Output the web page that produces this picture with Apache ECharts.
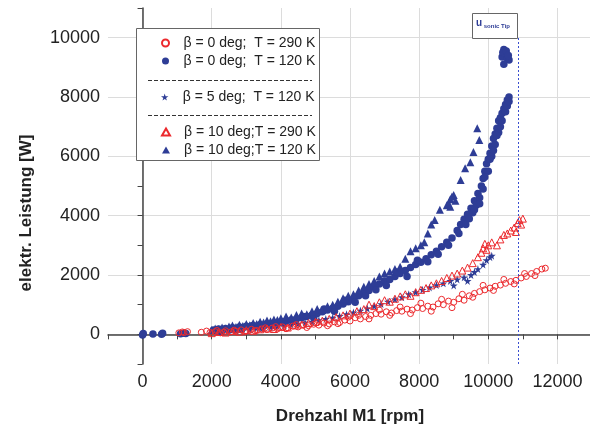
<!DOCTYPE html>
<html>
<head>
<meta charset="utf-8">
<script src="https://cdn.jsdelivr.net/npm/echarts@6/dist/echarts.min.js"></script>
<style>
    html, body { margin: 0; padding: 0; background: #fff; }
    #chart { width: 590px; height: 429px; }
</style>
</head>
<body>
<div id="chart"></div>
<script>
    // legend labels / series names
    const seriesNames = [
        'β = 0 deg;  T = 290 K',
        'β = 0 deg;  T = 120 K',
        'β = 5 deg;  T = 120 K',
        'β = 10 deg;T = 290 K',
        'β = 10 deg;T = 120 K'
    ]
    const xTickLabels = [0, 2000, 4000, 6000, 8000, 10000, 12000]
    const yTickLabels = [0, 2000, 4000, 6000, 8000, 10000]
    const uSonicTip = 10880

    //  [Drehzahl rpm, Leistung W]
    const beta0T290 = [
        [1050, 50], [1150, 80], [1200, 60], [1300, 90], [1700, 70], [1850, 110], [1950, 60], [2100, 90],
        [2250, 50], [2400, 120], [2550, 80], [2700, 100], [2850, 150], [3000, 110], [3150, 170], [3300, 130],
        [3450, 180], [3600, 160], [3750, 210], [3900, 180], [4050, 250], [4200, 220], [4350, 280], [4500, 250],
        [4650, 320], [4800, 290], [4950, 340], [5100, 310], [5250, 380], [5400, 350], [5550, 420], [5700, 400],
        [5850, 480], [6000, 450], [6150, 560], [6300, 520], [6450, 600], [6600, 640], [6750, 700], [6900, 680],
        [7050, 760], [7200, 720], [7350, 800], [7500, 780], [7650, 850], [7800, 820], [7950, 900], [8100, 870],
        [8250, 950], [8400, 920], [8550, 1030], [8700, 1000], [8850, 1120], [9000, 1080], [9150, 1200], [9300, 1150],
        [9450, 1300], [9600, 1380], [9750, 1440], [9900, 1500], [10050, 1560], [10200, 1620], [10350, 1660], [10500, 1720],
        [10650, 1780], [10800, 1820], [10950, 1900], [11100, 1950], [11250, 2050], [11400, 2120], [11550, 2200], [11650, 2230],
        [2150, 130], [2350, 70], [2650, 140], [2950, 80], [3250, 120], [3550, 220], [3850, 260], [4150, 190],
        [4450, 330], [4750, 230], [5050, 400], [5350, 290], [5650, 360], [5950, 580], [6250, 640], [6550, 520],
        [6850, 820], [7150, 640], [7450, 920], [7750, 700], [8050, 1050], [8350, 780], [8650, 1180], [8950, 900],
        [9250, 1350], [9550, 1250], [9850, 1650], [10150, 1480], [10450, 1850], [10750, 1700], [11050, 2050], [11350, 1980]
    ]
    const beta0T120 = [
        [0, -20], [20, 30], [300, 10], [550, 0], [580, 40], [1100, 20], [1200, 40], [1250, 30],
        [2050, 150], [2150, 100], [2200, 180], [2300, 130], [2400, 200], [2500, 150], [2600, 220], [2700, 180],
        [2800, 250], [2900, 210], [3000, 270], [3100, 230], [3200, 300], [3300, 260], [3400, 320], [3500, 290],
        [3600, 350], [3700, 330], [3800, 380], [3900, 360], [4000, 420], [4150, 450], [4300, 480], [4450, 520],
        [4600, 560], [4750, 600], [4900, 650], [5050, 700], [5200, 760], [5350, 820], [5500, 880], [5650, 950],
        [5800, 1020], [5950, 1100], [6100, 1180], [6250, 1300], [6400, 1400], [6550, 1480], [6700, 1600], [6850, 1700],
        [7000, 1800], [7150, 1850], [7300, 1950], [7450, 2050], [7600, 2150], [7750, 2250], [7900, 2350], [8050, 2430],
        [8200, 2550], [8350, 2680], [8500, 2800], [8650, 2950], [8800, 3100], [8950, 3250], [9100, 3500], [9200, 3700],
        [9300, 3880], [9400, 4050], [9500, 4250], [9600, 4500], [9700, 4750], [9800, 5000], [9850, 5250], [9900, 5500],
        [9950, 5750], [10000, 5900], [10050, 6100], [10100, 6350], [10150, 6600], [10200, 6750], [10250, 6950], [10300, 7200],
        [10350, 7300], [10400, 7450], [10450, 7600], [10500, 7750], [10550, 7900], [10600, 8000], [10400, 9350], [10450, 9600],
        [10500, 9450], [10550, 9300], [10600, 9250], [10450, 9100], [10420, 9500], [10520, 9550], [10580, 9400],
        [2250, 90], [2550, 170], [2850, 160], [3150, 280], [3450, 240], [3750, 300], [4050, 380], [4350, 430],
        [4650, 600], [4950, 560], [5250, 850], [5550, 780], [5850, 1150], [6150, 1080], [6450, 1300], [6750, 1500],
        [7050, 1650], [7350, 2100], [7650, 1950], [7950, 2500], [8250, 2450], [8550, 2700], [8850, 3000], [9150, 3400],
        [9350, 3700], [9550, 4100], [9650, 4350], [9750, 4600], [9850, 4900], [10000, 5500], [10100, 6000], [10200, 6400],
        [10300, 6800], [10350, 7000], [10500, 7500], [9900, 5300], [10050, 5900], [10150, 6200], [10250, 6700], [10400, 7200],
        [10550, 7700], [10600, 7850], [9750, 4400], [9600, 4200], [9450, 3900]
    ]
    const beta5T120 = [
        [2100, 120], [2300, 90], [2500, 150], [2700, 130], [2900, 180], [3100, 160], [3300, 210], [3500, 190],
        [3700, 240], [3900, 270], [4100, 300], [4300, 330], [4500, 360], [4700, 400], [4900, 430], [5100, 480],
        [5300, 520], [5500, 560], [5700, 620], [5900, 680], [6100, 740], [6300, 800], [6500, 870], [6700, 950],
        [6900, 1020], [7100, 1100], [7300, 1180], [7500, 1250], [7700, 1350], [7900, 1420], [8100, 1500], [8300, 1580],
        [8500, 1660], [8700, 1720], [8900, 1800], [9100, 1850], [9300, 1920], [9500, 2000], [9700, 2200], [9850, 2350],
        [9950, 2500], [10050, 2600], [10100, 2650], [9000, 1650], [9400, 1800], [9600, 2100]
    ]
    const beta10T290 = [
        [2000, 40], [2200, 80], [2400, 60], [2600, 110], [2800, 90], [3000, 140], [3200, 120], [3400, 170],
        [3600, 200], [3800, 180], [4000, 250], [4200, 230], [4400, 300], [4600, 330], [4800, 380], [5000, 420],
        [5200, 460], [5400, 520], [5600, 580], [5800, 640], [6000, 700], [6200, 780], [6400, 850], [6550, 1000],
        [6700, 950], [6850, 1080], [7000, 1150], [7150, 1100], [7300, 1200], [7450, 1280], [7600, 1350], [7750, 1300],
        [7900, 1420], [8050, 1500], [8200, 1560], [8350, 1650], [8500, 1720], [8650, 1800], [8800, 1900], [8950, 1980],
        [9100, 2050], [9250, 2150], [9400, 2250], [9550, 2400], [9700, 2600], [9800, 2750], [9850, 2900], [9900, 3050],
        [9950, 2850], [10000, 3000], [10100, 3100], [10250, 3000], [10350, 3200], [10450, 3350], [10550, 3400], [10650, 3500],
        [10750, 3600], [10850, 3750], [10900, 3850], [10950, 3700], [11000, 3900], [10800, 3450]
    ]
    const beta10T120 = [
        [2000, 150], [2100, 200], [2200, 170], [2300, 230], [2400, 200], [2500, 260], [2600, 300], [2700, 250],
        [2800, 320], [2900, 280], [3000, 350], [3100, 310], [3200, 380], [3300, 350], [3400, 420], [3500, 400],
        [3600, 470], [3700, 440], [3800, 500], [3900, 480], [4000, 540], [4150, 600], [4300, 570], [4450, 650],
        [4600, 700], [4750, 680], [4900, 780], [5050, 850], [5200, 820], [5350, 950], [5500, 1000], [5650, 1100],
        [5800, 1220], [5950, 1300], [6100, 1350], [6250, 1480], [6400, 1600], [6550, 1700], [6700, 1800], [6850, 1950],
        [7000, 2050], [7150, 2120], [7300, 2200], [7450, 2280], [7600, 2550], [7750, 2800], [7900, 2900], [8050, 3000],
        [8150, 3100], [8250, 3400], [8350, 3700], [8450, 3850], [8600, 4200], [8800, 4350], [8900, 4550], [9000, 4700],
        [9050, 4500], [9200, 5200], [9330, 5600], [9480, 5800], [9570, 6150], [9680, 6950], [9740, 6550],
        [8850, 4400], [8950, 4650], [8900, 4300]
    ]

    const blue = '#2e3d96'
    const red = '#ec2a2e'
    const font = 'Liberation Sans, Arial, sans-serif'
    const starPath = 'path://M50,0 L61,35 L98,35 L68,57 L79,91 L50,70 L21,91 L32,57 L2,35 L39,35 Z'

    const chart = echarts.init(document.getElementById('chart'))

    const legendBase = {
        left: 161,
        orient: 'vertical',
        padding: 0,
        itemWidth: 8,
        itemHeight: 7,
        itemGap: 4,
        selectedMode: false,
        textStyle: { fontSize: 14, color: '#222', fontFamily: font, padding: [0, 0, 0, 9] }
    }

    const option = {
        animation: false,
        backgroundColor: '#fff',
        grid: { left: 108, right: -2, top: 8, bottom: 65, outerBoundsMode: 'none' },
        legend: [
            Object.assign({}, legendBase, { top: 36, data: [seriesNames[0], seriesNames[1]] }),
            Object.assign({}, legendBase, { top: 90, data: [seriesNames[2]] }),
            Object.assign({}, legendBase, { top: 125, data: [seriesNames[3], seriesNames[4]] })
        ],
        xAxis: {
            type: 'value',
            min: -1000,
            max: 13000,
            interval: 1000,
            name: 'Drehzahl M1 [rpm]',
            nameLocation: 'middle',
            nameGap: 44,
            nameTextStyle: { fontSize: 17, fontWeight: 'bold', color: '#222', fontFamily: font },
            axisLine: { lineStyle: { color: '#444', width: 1.5 } },
            axisTick: { length: 5, lineStyle: { color: '#444' } },
            axisLabel: {
                fontSize: 18,
                color: '#222',
                fontFamily: font,
                margin: 9,
                formatter: v => (xTickLabels.indexOf(v) >= 0 ? String(v) : '')
            },
            splitLine: { show: true, lineStyle: { color: ['rgba(0,0,0,0)', '#dcdcdc'], width: 1 } }
        },
        yAxis: {
            type: 'value',
            min: -1000,
            max: 11000,
            interval: 1000,
            axisLine: { show: true, lineStyle: { color: '#444', width: 1.5 } },
            axisTick: { show: true, length: 5, lineStyle: { color: '#444' } },
            axisLabel: {
                fontSize: 18,
                color: '#222',
                fontFamily: font,
                margin: 8,
                formatter: v => (yTickLabels.indexOf(v) >= 0 ? String(v) : '')
            },
            splitLine: { show: true, lineStyle: { color: ['rgba(0,0,0,0)', '#dcdcdc'], width: 1 } }
        },
        series: [
            {
                name: seriesNames[1],
                type: 'scatter',
                data: beta0T120,
                symbol: 'circle',
                symbolSize: 7.5,
                itemStyle: { color: blue, opacity: 1 },
                markLine: {
                    silent: true,
                    symbol: 'none',
                    label: { show: false },
                    lineStyle: { color: '#3a4fd0', type: [2, 2], width: 1, opacity: 1 },
                    data: [[{ coord: [uSonicTip, -1000] }, { coord: [uSonicTip, 10000] }]]
                }
            },
            {
                name: seriesNames[4],
                type: 'scatter',
                data: beta10T120,
                symbol: 'triangle',
                symbolSize: 8,
                itemStyle: { color: blue, opacity: 1 }
            },
            {
                name: seriesNames[2],
                type: 'scatter',
                data: beta5T120,
                symbol: starPath,
                symbolSize: 8,
                itemStyle: { color: blue, opacity: 1 }
            },
            {
                name: seriesNames[0],
                type: 'scatter',
                data: beta0T290,
                symbol: 'circle',
                symbolSize: 6,
                itemStyle: { color: 'rgba(255,255,255,0)', borderColor: red, borderWidth: 1, opacity: 1 }
            },
            {
                name: seriesNames[3],
                type: 'scatter',
                data: beta10T290,
                symbol: 'triangle',
                symbolSize: 7,
                itemStyle: { color: 'rgba(255,255,255,0)', borderColor: red, borderWidth: 1, opacity: 1 }
            }
        ],
        graphic: [
            // legend frame with dashed separators
            {
                type: 'rect',
                z: 3,
                shape: { x: 136.5, y: 28.5, width: 183, height: 132 },
                style: { fill: '#fff', stroke: '#666', lineWidth: 1 }
            },
            {
                type: 'line',
                z: 3,
                shape: { x1: 148, y1: 80.5, x2: 312, y2: 80.5 },
                style: { stroke: '#333', lineWidth: 1, lineDash: [4, 2] }
            },
            {
                type: 'line',
                z: 3,
                shape: { x1: 148, y1: 115.5, x2: 312, y2: 115.5 },
                style: { stroke: '#333', lineWidth: 1, lineDash: [4, 2] }
            },
            // u sonic tip label
            {
                type: 'rect',
                z: 3,
                shape: { x: 472.5, y: 13.5, width: 45, height: 25 },
                style: { fill: '#fff', stroke: '#666', lineWidth: 1 }
            },
            {
                type: 'text',
                z: 4,
                x: 476,
                y: 29,
                style: {
                    text: '{a|u}{b| sonic Tip}',
                    textVerticalAlign: 'bottom',
                    rich: {
                        a: { fontSize: 10, fontWeight: 'bold', fill: blue, fontFamily: font },
                        b: { fontSize: 6, fontWeight: 'bold', fill: blue, fontFamily: font, padding: [6, 0, 0, 0] }
                    }
                }
            },
            {
                type: 'text',
                z: 4,
                x: 26,
                y: 213,
                rotation: Math.PI / 2,
                style: {
                    text: 'elektr. Leistung [W]',
                    textAlign: 'center',
                    textVerticalAlign: 'middle',
                    fontSize: 17,
                    fontWeight: 'bold',
                    fill: '#222',
                    fontFamily: font
                }
            }
        ]
    }

    option && chart.setOption(option)
</script>
</body>
</html>
